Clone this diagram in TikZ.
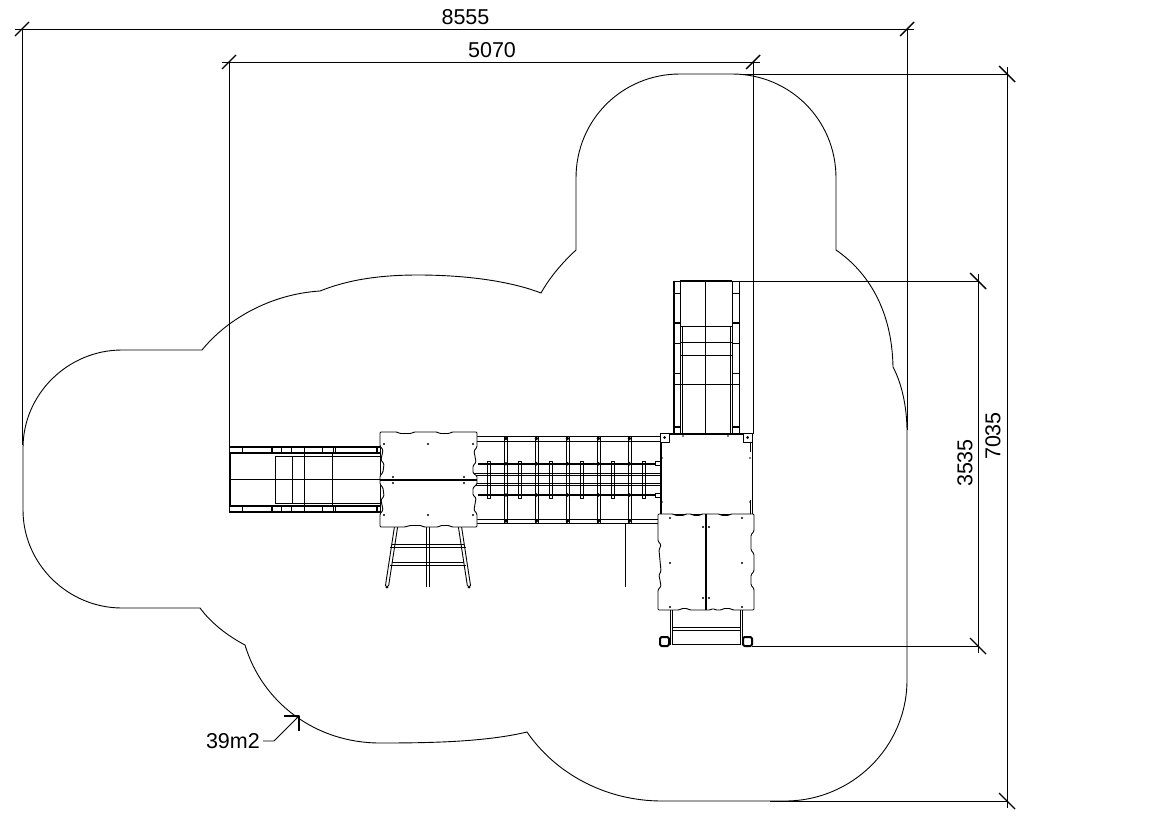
\documentclass[tikz,border=0pt]{standalone}
\usepackage{fontspec}
\setmainfont{Liberation Sans}
\begin{document}
\begin{tikzpicture}[x=1pt,y=-1pt,line join=round,
  ln/.style={line width=0.9pt,black},
  thk/.style={line width=2pt,black},
  dim/.style={line width=0.9pt,black},
  tick/.style={line width=1.4pt,black},
  lab/.style={font=\fontsize{21.5}{24}\selectfont,inner sep=0pt,text=black}]
\useasboundingbox (0,0) rectangle (1169,827);
\fill[white] (0,0) rectangle (1169,827);
% safety-zone outline
\draw[line width=0.9pt,black] (576,250) -- (576,178)
  .. controls (576,120) and (622,74) .. (680,74) -- (732,74)
  .. controls (790,74) and (836,120) .. (836,178) -- (836,250)
  .. controls (868,272) and (892,310) .. (893,367)
  .. controls (901,382) and (907,405) .. (907,432) -- (907,680)
  .. controls (907,747) and (852,801) .. (785,801) -- (662,801)
  .. controls (605,801) and (555,773) .. (527,732)
  .. controls (485,742) and (430,743) .. (380,743)
  .. controls (315,743) and (262,702) .. (245,645)
  .. controls (228,636) and (212,624) .. (200,608) -- (122,608)
  .. controls (68,608) and (23,564) .. (23,510) -- (23,448)
  .. controls (23,394) and (68,350) .. (122,350) -- (202,350)
  .. controls (228,318) and (272,294) .. (320,291)
  .. controls (345,281) and (375,275) .. (418,275)
  .. controls (465,275) and (510,281) .. (541,293)
  .. controls (550,277) and (562,263) .. (576,250);
% dimensions
\coordinate (a1) at (22,29); \coordinate (a2) at (907,29);
\coordinate (b1) at (229,62); \coordinate (b2) at (753,62);
\coordinate (c1) at (1007,74); \coordinate (c2) at (1007,801);
\coordinate (d1) at (978,281); \coordinate (d2) at (978,646);
\draw[dim] (15,29) -- (914,29);
\draw[dim] (22,29) -- (22,445);
\draw[dim] (907,29) -- (907,430);
\draw[dim] (222,62) -- (760,62);
\draw[dim] (229,62) -- (229,447);
\draw[dim] (753,62) -- (753,434);
\draw[dim] (740,74) -- (1007,74);
\draw[dim] (1007,67) -- (1007,808);
\draw[dim] (770,801) -- (1007,801);
\draw[dim] (737,281) -- (978,281);
\draw[dim] (978,274) -- (978,653);
\draw[dim] (752,646) -- (978,646);
\foreach \c in {a1,a2,b1,b2}{\draw[tick] ([shift={(-7,7)}]\c) -- ([shift={(7,-7)}]\c);}
\foreach \c in {c1,c2,d1,d2}{\draw[tick] ([shift={(-8,-8)}]\c) -- ([shift={(8,8)}]\c);}
\node[lab] (t8555) at (465.5,17) {8555};
\node[lab] (t5070) at (492,50) {5070};
\node[lab,rotate=90] (t7035) at (993,436) {7035};
\node[lab,rotate=90] (t3535) at (965,463) {3535};
\node[lab,anchor=east] (t39) at (260,741) {39m2};
\coordinate (lk) at (274,741); \coordinate (lt) at (299,716);
\draw[dim] (t39.east)+(3,0) -- (lk) -- (lt);
\draw[tick] (284,716) -- (299,716) -- (299,731);
% left slide
\draw[ln] (229,447) rectangle (380,512);
\draw[thk] (229,447) -- (380,447);
\draw[thk] (229,452.5) -- (380,452.5);
\draw[thk] (229,506) -- (380,506);
\draw[thk] (229,512) -- (380,512);
\draw[thk] (230,453) -- (230,506);
\draw[ln] (230,479.5) -- (380,479.5);
\draw[ln] (275,456) rectangle (292,503);
\draw[ln] (275,456) -- (380,456);
\draw[ln] (275,503) -- (380,503);
\foreach \x in {304,332}{\draw[ln] (\x,453) -- (\x,505);}
\foreach \x in {242,281,291,304,322,333,335}{
  \draw[ln] (\x,447) -- (\x,452); \draw[ln] (\x,506) -- (\x,512);}
\foreach \x in {272,377}{
  \draw[thk] (\x,447) -- (\x,452); \draw[thk] (\x,506) -- (\x,512);}
% ladder under platform
\foreach \a/\b in {396/387,460/469}{
  \draw[ln] (\a-1.6,527) -- (\b-1.6,586); \draw[ln] (\a+1.6,527) -- (\b+1.6,586);
  \fill[black] (\b,587) circle (1.7);}
\draw[ln] (426.5,527) -- (426.5,587); \draw[ln] (429.5,527) -- (429.5,587);
\foreach \y in {545.5,563.5}{
  \draw[ln] (392,\y-1.5) -- (464,\y-1.5); \draw[ln] (390,\y+1.5) -- (466,\y+1.5);}
% net bridge
\foreach \y in {436,441,519,523.5}{\draw[ln] (477,\y) -- (660,\y);}
\foreach \y in {473,475.5,483,485.5}{\draw[ln] (473,\y) -- (660,\y);}
\foreach \x in {506,536.5,567.5,598.5,629.5}{
  \draw[ln] (\x-1.5,436) -- (\x-1.5,523); \draw[ln] (\x+1.5,436) -- (\x+1.5,523);
  \fill[black] (\x,438.5) circle (1.9); \fill[black] (\x,521) circle (1.9);
  \fill[black] (\x,463.8) circle (1.9); \fill[black] (\x,495) circle (1.9);}
\foreach \x in {489,520,551,582,613,644}{
  \draw[ln] (\x-1.5,461) rectangle (\x+1.5,498);}
\draw[thk] (478,463.8) -- (655,463.8);
\draw[thk] (478,495) -- (655,495);
\draw[ln] (625,523) -- (625,587);
\foreach \y in {463.8,495}{\draw[ln] (655,\y-2) rectangle (661,\y+2);}
% upper slide
\draw[thk] (680,281) -- (732,281);
\draw[thk] (674,281) -- (674,434);
\draw[ln] (680,281) -- (680,434);
\draw[ln] (732,281) -- (732,434);
\draw[ln] (739,281) -- (739,434);
\draw[ln] (674,281) -- (739,281);
\draw[ln] (682,326) -- (682,434);
\draw[ln] (730,326) -- (730,434);
\draw[ln] (705,281) -- (705,434);
\foreach \y in {326,342,355,384}{\draw[ln] (680,\y) -- (732,\y);}
\foreach \y in {293,323,343,373,384}{
  \draw[ln] (674,\y) -- (680,\y); \draw[ln] (732,\y) -- (739,\y);}
\foreach \y in {323,427}{
  \draw[thk] (674,\y) -- (680,\y); \draw[thk] (732,\y) -- (739,\y);}
% tower deck
\draw[ln,fill=white] (661,434) rectangle (752,514);
\draw[thk] (661,434) -- (752,434);
\draw[thk] (661,442) -- (661,514);
\draw[ln] (750,442) -- (750,452); \draw[ln] (750,500) -- (750,514);
\foreach \x/\y in {664.5/437.5,747.5/437.5}{
  \draw[ln,fill=white] (\x-4.5,\y-4.5) rectangle (\x+4.5,\y+4.5);
  \fill[black] (\x,\y) circle (1.5);}
\foreach \p in {(662,458),(750,458),(750,502),(662,502),(683,436),(728,436)}{\fill[black] \p circle (0.9);}
% left platform
\draw[ln,fill=white,rounded corners=1pt] (380,432) -- (397,432) -- (400,433.5) -- (411,433.5) -- (414,432)
  -- (437,432) -- (440,433.5) -- (449,433.5) -- (452,432) -- (477,432)
  -- (477,447) -- (474,451) -- (476,462) -- (473,466) -- (473,473) -- (477,476) -- (477,484)
  -- (473,488) -- (473,495) -- (476,498) -- (474,510) -- (477,514) -- (477,527)
  -- (452,527) -- (449,525.5) -- (441,525.5) -- (438,527) -- (424,527)
  -- (421,525.5) -- (410,525.5) -- (405,527) -- (380,527)
  -- (380,514) -- (383,510) -- (381,500) -- (384,496) -- (383,488) -- (380,484)
  -- (380,476) -- (383,472) -- (384,464) -- (381,460) -- (383,450) -- (380,446) -- cycle;
\draw[thk] (380,480) -- (477,480);
\foreach \p in {(384,444),(428,444),(473,444),(393,477),(393,483),(464,477),(464,483),(384,515),(428,515),(473,515)}{\fill[black] \p circle (1.1);}
% lower platform
\draw[ln,fill=white,rounded corners=1pt] (658,514) -- (673,514) -- (676,515.5) -- (683,515.5) -- (686,514)
  -- (691,514) -- (694,515.5) -- (699,515.5) -- (702,514) -- (719,514) -- (722,515.5) -- (728,515.5) -- (731,514) -- (754,514)
  -- (754,531) -- (751,535) -- (751,550) -- (754,554) -- (754,571) -- (751,575) -- (751,585) -- (754,589) -- (754,610)
  -- (733,610) -- (730,608.5) -- (724,608.5) -- (721,610) -- (716,610) -- (713,608.5) -- (710,610)
  -- (690,610) -- (687,608.5) -- (682,608.5) -- (679,610) -- (658,610)
  -- (658,590) -- (661,586) -- (659,575) -- (661,571) -- (659,550) -- (661,545) -- (658,541) -- cycle;
\draw[thk] (706,514) -- (706,610);
\foreach \p in {(670,518),(703,527),(709,527),(670,563),(742,563),(703,598),(709,598),(670,607),(742,607),(742,518)}{\fill[black] \p circle (1.1);}
% steps
\draw[ln] (670,610) -- (670,645); \draw[ln] (672.5,610) -- (672.5,645);
\draw[ln] (740,610) -- (740,645); \draw[ln] (742.5,610) -- (742.5,645);
\draw[ln] (672,627) -- (740,627); \draw[ln] (672,630) -- (740,630);
\draw[ln] (672,644) -- (740,644);
\foreach \x in {664.5,747.5}{\draw[thk,fill=white,rounded corners=1.5pt] (\x-4.5,637) rectangle (\x+4.5,646);}
\end{tikzpicture}
\end{document}
